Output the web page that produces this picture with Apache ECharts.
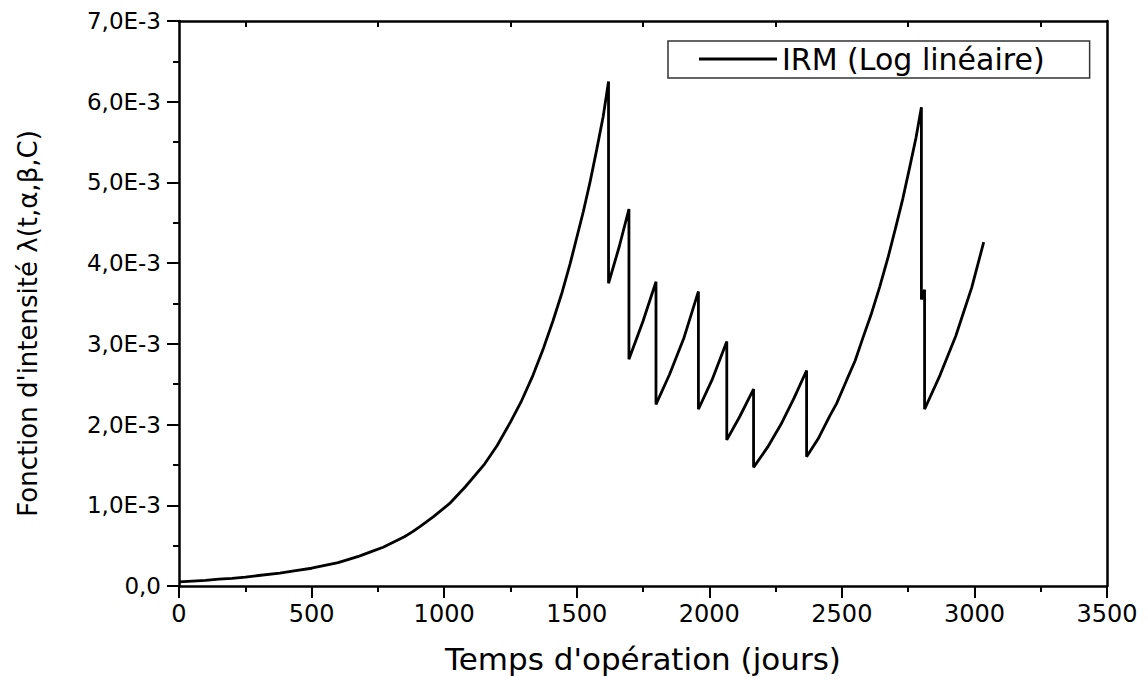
<!DOCTYPE html>
<html>
<head>
<meta charset="utf-8">
<script src="https://cdn.jsdelivr.net/npm/echarts@6/dist/echarts.min.js"></script>
<style>
html,body{margin:0;padding:0;background:#fff;}
#chart{width:1148px;height:679px;}
</style>
</head>
<body>
<div id="chart"></div>
<script>
// Operating time (days)
const days = [0, 50, 100, 150, 200, 250, 300, 380, 440, 500, 550, 600, 640, 680, 720, 770, 810, 850, 880, 910, 960, 1020, 1080, 1150, 1200, 1250, 1290, 1335, 1375, 1410, 1445, 1475, 1525, 1550, 1575, 1600, 1620,
  1620, 1660, 1697,
  1697, 1750, 1799,
  1799, 1850, 1905, 1959,
  1959, 2010, 2066,
  2066, 2115, 2167,
  2167, 2220, 2270, 2320, 2367,
  2367, 2410, 2455, 2480, 2518, 2550, 2580, 2610, 2643, 2675, 2706, 2730, 2756, 2780, 2800,
  2800, 2812,
  2812, 2870, 2930, 2990, 3035];
// Intensity values in units of 1E-3
const lambdaE3 = [0.05, 0.06, 0.07, 0.085, 0.095, 0.11, 0.13, 0.16, 0.19, 0.22, 0.255, 0.29, 0.33, 0.37, 0.42, 0.48, 0.545, 0.61, 0.67, 0.74, 0.86, 1.02, 1.23, 1.50, 1.74, 2.03, 2.28, 2.61, 2.95, 3.28, 3.64, 3.99, 4.64, 5.00, 5.40, 5.82, 6.25,
  3.75, 4.20, 4.67,
  2.81, 3.28, 3.77,
  2.25, 2.62, 3.08, 3.65,
  2.19, 2.55, 3.03,
  1.81, 2.10, 2.44,
  1.47, 1.72, 2.00, 2.33, 2.67,
  1.60, 1.82, 2.11, 2.26, 2.55, 2.79, 3.08, 3.36, 3.71, 4.08, 4.48, 4.80, 5.19, 5.56, 5.93,
  3.55, 3.67,
  2.19, 2.61, 3.10, 3.70, 4.26];
const seriesName = 'IRM (Log linéaire)';
const xTitle = "Temps d'opération (jours)";
const yTitle = "Fonction d'intensité λ(t,α,β,C)";

const data = days.map((d, i) => [d, lambdaE3[i]]);
const FONT = 'DejaVu Sans';
const chart = echarts.init(document.getElementById('chart'), null, {renderer: 'svg'});
const axisLineStyle = {color: '#000', width: 2.5};
chart.setOption({
  backgroundColor: '#fff',
  animation: false,
  grid: {left: 179, top: 21, right: 41, bottom: 89, containLabel: false},
  legend: {
    show: true,
    left: 668, top: 41,
    padding: [3, 45, 4, 31],
    borderColor: '#333', borderWidth: 1.5,
    itemWidth: 78, itemHeight: 3,
    icon: 'rect',
    itemStyle: {color: '#000'},
    textStyle: {fontFamily: FONT, fontSize: 30, color: '#000'},
    data: [seriesName]
  },
  xAxis: [{
    type: 'value', min: 0, max: 3500, interval: 500, position: 'bottom',
    axisLine: {show: true, onZero: false, lineStyle: axisLineStyle},
    axisTick: {show: true, length: 12, lineStyle: {color: '#000', width: 2}},
    minorTick: {show: true, splitNumber: 2, length: 6, lineStyle: {color: '#000', width: 2}},
    splitLine: {show: false},
    axisLabel: {fontFamily: FONT, fontSize: 24, color: '#000', margin: 16, formatter: v => String(v)},
    name: xTitle, nameLocation: 'middle', nameGap: 57,
    nameTextStyle: {fontFamily: FONT, fontSize: 31, color: '#000'}
  }, {
    type: 'value', min: 0, max: 3500, interval: 500, position: 'top',
    axisLine: {show: true, onZero: false, lineStyle: axisLineStyle},
    axisTick: {show: false, inside: true},
    minorTick: {show: true, splitNumber: 2, length: 6, lineStyle: {color: '#000', width: 2}},
    splitLine: {show: false},
    axisLabel: {show: false}
  }],
  yAxis: [{
    type: 'value', min: 0, max: 7, interval: 1, position: 'left',
    axisLine: {show: true, onZero: false, lineStyle: axisLineStyle},
    axisTick: {show: true, length: 12, lineStyle: {color: '#000', width: 2}},
    minorTick: {show: true, splitNumber: 2, length: 6, lineStyle: {color: '#000', width: 2}},
    splitLine: {show: false},
    axisLabel: {fontFamily: FONT, fontSize: 23, color: '#000', margin: 18,
      formatter: v => v === 0 ? '0,0' : v.toFixed(1).replace('.', ',') + 'E-3'},
    name: yTitle, nameLocation: 'middle', nameGap: 138,
    nameTextStyle: {fontFamily: FONT, fontSize: 26, color: '#000', padding: [0, 40, 0, 0]}
  }, {
    type: 'value', min: 0, max: 7, interval: 1, position: 'right',
    axisLine: {show: true, onZero: false, lineStyle: axisLineStyle},
    axisTick: {show: false},
    splitLine: {show: false},
    axisLabel: {show: false}
  }],
  series: [{
    name: seriesName,
    type: 'line',
    xAxisIndex: 0, yAxisIndex: 0,
    data: data,
    symbol: 'none',
    smooth: false,
    lineStyle: {color: '#000', width: 2.8},
    itemStyle: {color: '#000'}
  }]
});
</script>
</body>
</html>
